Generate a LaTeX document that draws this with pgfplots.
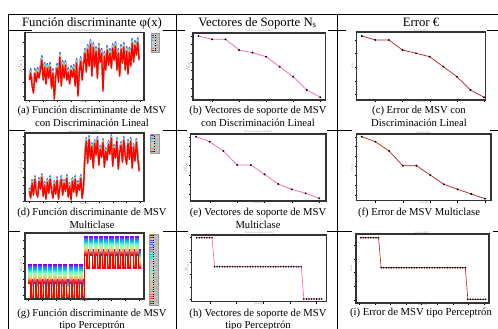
\documentclass[border=0pt]{standalone}
\usepackage{fontspec}
\setmainfont{Liberation Serif}
\usepackage{pgfplots}
\usepackage{pgfplotstable}
\pgfplotsset{compat=1.18}

\definecolor{pinkline}{RGB}{250,95,185}
\definecolor{errline}{RGB}{185,30,30}
\definecolor{leggray}{RGB}{196,196,196}

\newcommand\makerainbow[2]{%
  \pgfplotsforeachungrouped \k in {0,...,#2}{%
    \pgfmathsetmacro\rbt{\k/#2}%
    \pgfmathsetmacro\rbr{min(1,abs(2*\rbt-0.5))}%
    \pgfmathsetmacro\rbg{max(0,sin(180*\rbt))}%
    \pgfmathsetmacro\rbb{max(0,cos(90*\rbt))}%
    \edef\tmpdef{\noexpand\definecolor{#1\k}{rgb}{\rbr,\rbg,\rbb}}%
    \tmpdef
  }%
}
\makerainbow{ac}{6}
\makerainbow{gc}{29}

\newcommand\capfont{\fontsize{10.7}{12.7}\selectfont}
\newcommand\headfont{\fontsize{12.8}{14}\selectfont}

\pgfplotstableread[row sep=\\]{x y\\
1 20\\ 2 27\\ 3 14\\ 4 7\\ 5 27\\ 6 18\\ 7 28\\ 8 22\\ 9 30\\ 10 40\\
11 20\\ 12 33\\ 13 16\\ 14 32\\ 15 22\\ 16 33\\ 17 12\\ 18 27\\ 19 1\\ 20 24\\
21 32\\ 22 18\\ 23 43\\ 24 14\\ 25 35\\ 26 22\\ 27 35\\ 28 20\\ 29 28\\ 30 16\\
31 30\\ 32 23\\ 33 31\\ 34 14\\ 35 37\\ 36 4\\ 37 28\\ 38 39\\ 39 20\\ 40 35\\
41 47\\ 42 28\\ 43 51\\ 44 34\\ 45 56\\ 46 24\\ 47 53\\ 48 33\\ 49 49\\ 50 22\\
51 52\\ 52 38\\ 53 47\\ 54 9\\ 55 44\\ 56 30\\ 57 50\\ 58 35\\ 59 47\\ 60 32\\
61 52\\ 62 40\\ 63 54\\ 64 30\\ 65 47\\ 66 24\\ 67 51\\ 68 37\\ 69 53\\ 70 30\\
71 49\\ 72 26\\ 73 48\\ 74 34\\ 75 57\\ 76 38\\ 77 55\\ 78 45\\ 79 58\\ 80 40\\
}\dataA

\pgfplotstableread[row sep=\\]{x y\\
1 10\\ 2 3\\ 3 18\\ 4 6\\ 5 22\\ 6 9\\ 7 4\\ 8 20\\ 9 12\\ 10 24\\
11 5\\ 12 16\\ 13 2\\ 14 19\\ 15 8\\ 16 22\\ 17 11\\ 18 3\\ 19 17\\ 20 7\\
21 21\\ 22 2\\ 23 14\\ 24 22\\ 25 6\\ 26 18\\ 27 10\\ 28 23\\ 29 4\\ 30 15\\
31 1\\ 32 20\\ 33 9\\ 34 22\\ 35 5\\ 36 17\\ 37 11\\ 38 23\\ 39 3\\ 40 14\\
41 45\\ 42 60\\ 43 38\\ 44 62\\ 45 42\\ 46 55\\ 47 33\\ 48 58\\ 49 46\\ 50 61\\
51 36\\ 52 52\\ 53 44\\ 54 59\\ 55 34\\ 56 50\\ 57 41\\ 58 57\\ 59 47\\ 60 63\\
61 35\\ 62 53\\ 63 43\\ 64 60\\ 65 32\\ 66 49\\ 67 56\\ 68 39\\ 69 61\\ 70 45\\
71 37\\ 72 58\\ 73 42\\ 74 60\\ 75 33\\ 76 54\\ 77 40\\ 78 59\\ 79 44\\ 80 30\\
}\dataD

\pgfplotstableread[row sep=\\]{x y\\
1 16\\ 2 1\\ 3 16\\ 4 1\\ 5 16\\ 6 1\\ 7 16\\ 8 1\\ 9 16\\ 10 1\\ 11 16\\
12 1\\ 13 16\\ 14 1\\ 15 16\\ 16 1\\ 17 16\\ 18 1\\ 19 16\\ 20 1\\ 21 16\\ 22 1\\
23 44\\ 24 31\\ 25 44\\ 26 31\\ 27 44\\ 28 31\\ 29 44\\ 30 31\\ 31 44\\ 32 31\\ 33 44\\
34 31\\ 35 44\\ 36 31\\ 37 44\\ 38 31\\ 39 44\\ 40 31\\ 41 44\\ 42 31\\ 43 44\\ 44 31\\ 45 31\\
}\dataG

\pgfplotstableread[row sep=\\]{x y\\
1 64\\ 2 60.7\\ 3 60.7\\ 4 50\\ 5 47.3\\ 6 43.3\\ 7 33.3\\ 8 23.3\\ 9 10\\ 10 2.7\\
}\dataB
\pgfplotstableread[row sep=\\]{x y\\
1 64\\ 2 60\\ 3 60\\ 4 50\\ 5 46.7\\ 6 43.3\\ 7 33.3\\ 8 23.3\\ 9 10\\ 10 2.7\\
}\dataC
\pgfplotstableread[row sep=\\]{x y\\
1 64.3\\ 2 59.3\\ 3 50\\ 4 36\\ 5 36\\ 6 26.7\\ 7 17\\ 8 11.7\\ 9 7.7\\ 10 2.7\\
}\dataE
\pgfplotstableread[row sep=\\]{x y\\
1 64\\ 2 59\\ 3 49.7\\ 4 35\\ 5 35\\ 6 25.7\\ 7 16.4\\ 8 11.4\\ 9 6.7\\ 10 2\\
}\dataF

\pgfplotstableread[row sep=\\]{x y\\
1 64\\ 2 64\\ 3 64\\ 4 64\\ 5 64\\ 6 64\\ 7 64\\
8 35\\ 9 35\\ 10 35\\ 11 35\\ 12 35\\ 13 35\\ 14 35\\ 15 35\\ 16 35\\ 17 35\\
18 35\\ 19 35\\ 20 35\\ 21 35\\ 22 35\\ 23 35\\ 24 35\\ 25 35\\ 26 35\\ 27 35\\
28 35\\ 29 35\\ 30 35\\ 31 35\\ 32 35\\ 33 35\\ 34 35\\ 35 35\\ 36 35\\ 37 35\\
38 35\\ 39 35\\ 40 35\\ 41 35\\ 42 35\\
43 2.7\\ 44 2.7\\ 45 2.7\\ 46 2.7\\ 47 2.7\\ 48 2.7\\ 49 2.7\\ 50 2.7\\
}\dataH

\pgfplotstableread[row sep=\\]{x y\\
1 65.3\\ 2 65.3\\ 3 65.3\\ 4 65.3\\ 5 65.3\\ 6 65.3\\ 7 65.3\\ 8 65.3\\
9 35.3\\ 10 35.3\\ 11 35.3\\ 12 35.3\\ 13 35.3\\ 14 35.3\\ 15 35.3\\ 16 35.3\\ 17 35.3\\
18 35.3\\ 19 35.3\\ 20 35.3\\ 21 35.3\\ 22 35.3\\ 23 35.3\\ 24 35.3\\ 25 35.3\\ 26 35.3\\ 27 35.3\\
28 35.3\\ 29 35.3\\ 30 35.3\\ 31 35.3\\ 32 35.3\\ 33 35.3\\ 34 35.3\\ 35 35.3\\ 36 35.3\\ 37 35.3\\
38 35.3\\ 39 35.3\\ 40 35.3\\ 41 35.3\\ 42 35.3\\
43 3.7\\ 44 3.7\\ 45 3.7\\ 46 3.7\\ 47 3.7\\ 48 3.7\\ 49 3.7\\ 50 3.7\\
}\dataI

\pgfplotsset{
  panel/.style={
    scale only axis, anchor=north west, axis on top,
    axis line style={line width=1.1pt, black!80},
    tick align=outside, major tick length=2pt, tick pos=left,
    tick style={black, line width=0.4pt},
    xticklabels={}, yticklabels={},
    every axis title/.style={at={(0.5,1)}, anchor=south, yshift=0.6pt, inner sep=0pt,
      font=\fontsize{2.5}{2.8}\selectfont, text=black!45},
    every axis x label/.style={at={(0.5,0)}, anchor=north, yshift=-0.9pt, inner sep=0pt,
      font=\fontsize{2.6}{3}\selectfont, text=black!45},
    every axis y label/.style={at={(-0.035,0.5)}, anchor=center, rotate=90, inner sep=0pt,
      font=\fontsize{2.6}{3}\selectfont, text=black!45},
  },
  legbox/.style={
    legend style={fill=leggray, draw=black!40, line width=0.3pt,
      inner sep=0.4pt, row sep=0pt, anchor=north west,
      font=\fontsize{1.8}{2}\selectfont},
    legend cell align=left,
    legend image code/.code={\draw[##1] (0pt,0pt) -- (2.6pt,0pt);},
  },
}

\begin{document}
\begin{tikzpicture}
\useasboundingbox (0,0) rectangle (498bp,-329bp);
\begin{scope}[x=1bp,y=-1bp]
  % table rules
  \draw[line width=0.9pt] (8,14) -- (498,14);
  \draw[line width=0.9pt] (8,30) -- (498,30);
  \draw[line width=0.9pt] (8,130.7) -- (498,130.7);
  \draw[line width=0.9pt] (8,231) -- (498,231);
  \draw[line width=0.9pt] (8,14) -- (8,329);
  \draw[line width=0.9pt] (176,14) -- (176,329);
  \draw[line width=0.9pt] (337,14) -- (337,329);
  % white image backgrounds
  \fill[white] (31.7,29) rectangle (163,104);
  \fill[white] (185,29) rectangle (328,104);
  \fill[white] (346,29) rectangle (486.7,104);
  \fill[white] (25,128) rectangle (163,206);
  \fill[white] (187,128) rectangle (326.7,206);
  \fill[white] (351.7,128) rectangle (490,206);
  \fill[white] (20,229) rectangle (163,307);
  \fill[white] (188,229) rectangle (327,307);
  \fill[white] (352,229) rectangle (493,307);
  % header
  \node[anchor=base, font=\headfont, inner sep=0pt] at (92,26) {Función discriminante φ(x)};
  \node[anchor=base, font=\headfont, inner sep=0pt] at (257.5,26) {Vectores de Soporte N\textsubscript{s}};
  \node[anchor=base, font=\headfont, inner sep=0pt] at (421,26) {Error €};
  % captions
  \node[anchor=base, font=\capfont, inner sep=0pt] at (92,113.3) {(a) Función discriminante de MSV};
  \node[anchor=base, font=\capfont, inner sep=0pt] at (92,126) {con Discriminación Lineal};
  \node[anchor=base, font=\capfont, inner sep=0pt] at (258,113.3) {(b) Vectores de soporte de MSV};
  \node[anchor=base, font=\capfont, inner sep=0pt] at (258,126) {con Discriminación Lineal};
  \node[anchor=base, font=\capfont, inner sep=0pt] at (419,113.3) {(c) Error de MSV con};
  \node[anchor=base, font=\capfont, inner sep=0pt] at (419,126) {Discriminación Lineal};
  \node[anchor=base, font=\capfont, inner sep=0pt] at (92,215.3) {(d) Función discriminante de MSV};
  \node[anchor=base, font=\capfont, inner sep=0pt] at (92,228.3) {Multiclase};
  \node[anchor=base, font=\capfont, inner sep=0pt] at (258,215.3) {(e) Vectores de soporte de MSV};
  \node[anchor=base, font=\capfont, inner sep=0pt] at (258,228.3) {Multiclase};
  \node[anchor=base, font=\capfont, inner sep=0pt] at (419,215.3) {(f) Error de MSV Multiclase};
  \node[anchor=base, font=\capfont, inner sep=0pt] at (92,316) {(g) Función discriminante de MSV};
  \node[anchor=base, font=\capfont, inner sep=0pt] at (92,328.7) {tipo Perceptrón};
  \node[anchor=base, font=\capfont, inner sep=0pt] at (258,316) {(h) Vectores de soporte de MSV};
  \node[anchor=base, font=\capfont, inner sep=0pt] at (258,328.7) {tipo Perceptrón};
  \node[anchor=base, font=\capfont, inner sep=0pt] at (421,315.7) {(i) Error de MSV tipo Perceptrón};
\end{scope}

% (a)
\begin{axis}[panel, legbox, at={(25bp,-32.5bp)}, width=119bp, height=67.7bp,
  xmin=-2.1, xmax=83.5, ymin=0, ymax=67.7,
  xtick={1,11,...,81}, ytick={4.4,17.7,...,60},
  title={Función discriminante de MSV}, xlabel={Muestras}, ylabel={$\varphi(x)$},
  legend style={at={(1.056,0.99)},
    nodes={inner sep=0.15pt, text height=1.9pt, text depth=0.4pt, text=black!55}}]
\pgfplotsinvokeforeach{0,...,6}{
  \addplot[color=ac#1, line width=1.3pt, line join=round, forget plot,
    yshift={(1-#1/6)*4.5pt}] table {\dataA};
  \addlegendimage{color=ac#1, line width=0.9pt}
  \addlegendentry{{\color{black}\rule[0.5pt]{0.9pt}{0.45pt}}\hspace{0.3pt}n=#1}
}
\end{axis}

% (b)
\begin{axis}[panel, at={(193bp,-33bp)}, width=132.7bp, height=67bp,
  xmin=0.6, xmax=10.4, ymin=0, ymax=67,
  xtick={2,4,...,10}, ytick={3.3,12,...,65},
  title={Vectores de soporte de MSV}, xlabel={Iteración}, ylabel={$N_s$}]
\addplot[pinkline, line width=0.7pt, mark=*, mark size=0.55pt,
  mark options={black}] table {\dataB};
\end{axis}

% (c)
\begin{axis}[panel, at={(356.7bp,-32bp)}, width=129bp, height=68bp,
  xmin=0.63, xmax=10.12, ymin=0, ymax=68,
  xtick={2,4,...,10}, ytick={5.7,19.3,...,61},
  title={Error de MSV}, xlabel={Iteración}, ylabel={Error}]
\addplot[errline, line width=0.7pt, mark=*, mark size=0.55pt,
  mark options={black}] table {\dataC};
\end{axis}

% (d)
\begin{axis}[panel, legbox, at={(25bp,-133bp)}, width=119bp, height=68.3bp,
  xmin=-2.1, xmax=83.5, ymin=0, ymax=68.3,
  xtick={1,11,...,81}, ytick={0,8.2,...,66},
  title={Función discriminante de MSV}, xlabel={Muestras}, ylabel={$\varphi(x)$},
  legend style={at={(1.05,0.985)},
    nodes={inner sep=0.15pt, text height=1.9pt, text depth=0.4pt, text=black!55}}]
\pgfplotsinvokeforeach{0,...,6}{
  \addplot[color=ac#1, line width=1.3pt, line join=round, forget plot,
    yshift={(1-#1/6)*3.5pt}] table {\dataD};
  \addlegendimage{color=ac#1, line width=0.9pt}
  \addlegendentry{{\color{black}\rule[0.5pt]{0.9pt}{0.45pt}}\hspace{0.3pt}n=#1}
}
\end{axis}

% (e)
\begin{axis}[panel, at={(190.7bp,-134bp)}, width=135.3bp, height=67bp,
  xmin=0.61, xmax=10.49, ymin=0, ymax=67,
  xtick={2,4,...,10}, ytick={7,16.5,...,65},
  title={Vectores de soporte de MSV}, xlabel={Iteración}, ylabel={$N_s$}]
\addplot[pinkline, line width=0.7pt, mark=*, mark size=0.55pt,
  mark options={black}] table {\dataE};
\end{axis}

% (f)
\begin{axis}[panel, at={(356.7bp,-134bp)}, width=134.3bp, height=66.7bp,
  xmin=0.635, xmax=10.44, ymin=0, ymax=66.7,
  xtick={2,4,...,10}, ytick={5.7,15.4,...,65},
  title={Error de MSV}, xlabel={Iteración}, ylabel={Error}]
\addplot[errline, line width=0.7pt, mark=*, mark size=0.55pt,
  mark options={black}] table {\dataF};
\end{axis}

% (g)
\begin{axis}[panel, legbox, at={(25bp,-233bp)}, width=119bp, height=66bp,
  xmin=-0.29, xmax=46.2, ymin=0, ymax=66,
  xtick={1,6.43,...,45}, ytick={4.3,12.1,...,62},
  title={Función discriminante de MSV}, xlabel={Muestras}, ylabel={$\varphi(x)$},
  legend style={at={(1.042,0.99)}, font=\fontsize{1.7}{1.9}\selectfont,
    nodes={inner sep=0.15pt, text height=1.7pt, text depth=0.35pt, text=black!55}}]
\pgfplotsinvokeforeach{0,...,29}{
  \addplot[color=gc#1, line width=1.5pt, const plot, line join=miter, forget plot,
    yshift={(1-#1/29)*18pt}] table {\dataG};
  \addlegendimage{color=gc#1, line width=0.8pt}
  \addlegendentry{{\color{black}\rule[0.5pt]{0.9pt}{0.4pt}}\hspace{0.3pt}n=#1}
}
\end{axis}

% (h)
\begin{axis}[panel, at={(191.7bp,-235bp)}, width=135bp, height=66.7bp,
  xmin=-0.96, xmax=51.96, ymin=0, ymax=66.7,
  xtick={6.2,16.65,27.1,37.55,48}, ytick={2.7,15,...,65},
  title={Vectores de soporte de MSV}, xlabel={Iteración}, ylabel={$N_s$}]
\addplot[pinkline, line width=0.6pt, mark=*, mark size=0.45pt,
  mark options={black}] table {\dataH};
\end{axis}

% (i)
\begin{axis}[panel, at={(356bp,-234bp)}, width=133bp, height=69bp,
  xmin=-0.84, xmax=51.3, ymin=0, ymax=69,
  xtick={0.5,6.6,...,50}, ytick={3,16.75,...,60},
  title={Error de MSV}, xlabel={Iteración}, ylabel={Error}]
\addplot[errline, line width=0.6pt, mark=*, mark size=0.45pt,
  mark options={black}] table {\dataI};
\end{axis}
\end{tikzpicture}
\end{document}
